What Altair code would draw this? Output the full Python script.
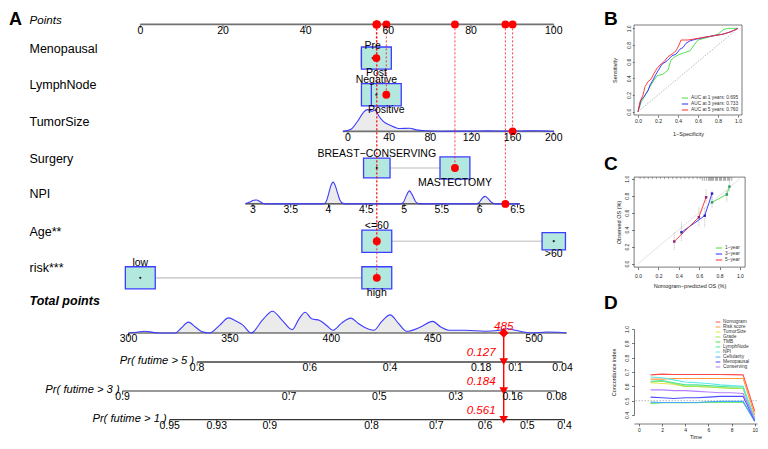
import altair as alt
import numpy as np
import pandas as pd

FONT = "Liberation Sans"

# ============================ data: panel A (nomogram) ============================
POINTS_TICKS = [0, 20, 40, 60, 80, 100]

MENO_CATS = ["Pre", "Post"]
MENO_PTS = [56.2, 57.1]
MENO_FREQ = [0.36, 0.64]

LYMPH_CATS = ["Negative", "Positive"]
LYMPH_PTS = [57.1, 59.5]
LYMPH_FREQ = [0.50, 0.50]

SURG_CATS = ["BREAST\u2212CONSERVING", "MASTECTOMY"]
SURG_PTS = [57.2, 76.1]
SURG_FREQ = [0.44, 0.56]

AGE_CATS = ["<=60", ">60"]
AGE_PTS = [57.2, 100.0]
AGE_FREQ = [0.62, 0.38]

RISK_CATS = ["low", "high"]
RISK_PTS = [0.0, 57.2]
RISK_FREQ = [0.50, 0.50]

TUMOR_TICKS = [0, 40, 80, 120, 160, 200]
TUMOR_COEF = (50.24, 0.2488)          # points at 0, points per unit
TUMOR_SPAN = [-5, 200]
TUMOR_DENS_X = [-5, 2.9, 9.2, 15.2, 18.8, 23.5, 26.7, 29.5, 34.3, 41, 50.5, 60, 66.4,
                75.9, 88.6, 104, 120, 136, 152, 168, 184, 196, 200]
TUMOR_DENS_Y = [0, 2.3, 10.6, 20.6, 23.3, 21.6, 23.0, 17.3, 10.6, 6.6, 3.0, 3.3, 1.6,
                0.6, 0.2, 0.3, 0.3, 0.5, 0.3, 0.4, 0.6, 0.2, 0]

NPI_TICKS = [3, 3.5, 4, 4.5, 5, 5.5, 6, 6.5]
NPI_COEF = (27.25, 18.28)             # points at NPI 3, points per unit
NPI_SPAN = [2.9, 6.53]
NPI_DENS_X = [2.9, 2.96, 3.01, 3.05, 3.09, 3.13, 3.17,
              3.93, 3.97, 4.0, 4.03, 4.06, 4.09, 4.12, 4.15, 4.19, 4.23,
              4.95, 4.99, 5.03, 5.07, 5.11, 5.15, 5.19, 5.23,
              5.95, 5.99, 6.03, 6.07, 6.11, 6.15, 6.19, 6.23, 6.53]
NPI_DENS_Y = [0.3, 2.0, 3.8, 4.0, 2.5, 0.6, 0,
              0, 2.5, 10, 18.5, 22.3, 18.5, 11, 4, 0.5, 0,
              0, 1.5, 8.5, 13.3, 9, 2.5, 0.3, 0,
              0, 1.2, 5.5, 7.7, 5.5, 2, 0.3, 0, 0]

TOTAL_TICKS = [300, 350, 400, 450, 500]
TOTAL_COEF = (-2.844, 0.4905)         # points-scale position of 300, per total point
TOTAL_SPAN = [300, 516]
TOTAL_DENS_X = [300, 304, 308, 312, 315, 323, 326, 329.5, 333, 336, 340, 345, 349.3, 353,
                356.5, 360.5, 366, 371, 375.8, 380.7, 384, 387.1, 390.3, 394.3, 398, 400.8,
                405, 409.7, 413, 416.1, 420.9, 425, 429, 433, 437.1, 444, 449.9, 454, 458,
                466, 475.7, 482, 487, 491, 495, 499, 506.3, 512, 516]
TOTAL_DENS_Y = [0, 0.8, 1.7, 0.6, 0, 0, 5, 11, 6, 1.5, 0, 8, 15.3, 12,
                7.7, 0, 13, 22, 12.7, 3.3, 14, 21, 14.3, 12.7, 7, 2.7,
                10, 15, 10, 6, 2.7, 12, 18.3, 10, 1.7, 6, 11.7, 6, 2.7,
                2.7, 1.7, 2.5, 4.3, 2.7, 1, 0, 1, 0.8, 0]

PR5_LABELS = ["0.8", "0.6", "0.4", "0.18", "0.1", "0.04"]
PR5_TOTAL = [333.8, 389.4, 429.0, 473.9, 490.8, 514.0]
PR3_LABELS = ["0.9", "0.7", "0.5", "0.3", "0.16", "0.08"]
PR3_TOTAL = [297.1, 379.2, 423.7, 461.4, 489.4, 511.1]
PR1_LABELS = ["0.95", "0.93", "0.9", "0.8", "0.7", "0.6", "0.5", "0.4"]
PR1_TOTAL = [320.3, 343.5, 369.6, 419.8, 451.7, 475.8, 496.6, 515.0]

PATIENT = {"Menopausal": "Post", "LymphNode": "Positive", "TumorSize": 160,
           "Surgery": "MASTECTOMY", "NPI": 6.34, "Age**": "<=60", "risk***": "high"}
PATIENT_TOTAL = 485
PATIENT_PROB = {"Pr5": "0.127", "Pr3": "0.184", "Pr1": "0.561"}

# ============================ data: panel B (ROC) ============================
ROC_NAMES = ["AUC at 1 years: 0.695", "AUC at 3 years: 0.733", "AUC at 5 years: 0.760"]
ROC1_FPR = [0, 0.03, 0.06, 0.09, 0.13, 0.16, 0.19, 0.25, 0.30, 0.33, 0.37, 0.42, 0.47, 0.52,
            0.56, 0.60, 0.66, 0.72, 0.80, 0.86, 0.92, 1.0]
ROC1_TPR = [0, 0.11, 0.17, 0.24, 0.32, 0.38, 0.43, 0.45, 0.50, 0.62, 0.66, 0.69, 0.71, 0.73,
            0.80, 0.86, 0.88, 0.90, 0.93, 0.99, 1.0, 1.0]
ROC3_FPR = [0, 0.03, 0.06, 0.10, 0.12, 0.15, 0.18, 0.21, 0.24, 0.29, 0.34, 0.38, 0.42, 0.45,
            0.48, 0.52, 0.58, 0.66, 0.75, 0.85, 0.93, 1.0]
ROC3_TPR = [0, 0.14, 0.18, 0.25, 0.32, 0.38, 0.45, 0.51, 0.57, 0.61, 0.67, 0.69, 0.75, 0.77,
            0.82, 0.85, 0.87, 0.89, 0.91, 0.93, 0.96, 1.0]
ROC5_FPR = [0, 0.02, 0.05, 0.07, 0.10, 0.13, 0.16, 0.19, 0.22, 0.26, 0.30, 0.34, 0.38, 0.41,
            0.43, 0.50, 0.55, 0.65, 0.75, 0.85, 0.93, 1.0]
ROC5_TPR = [0, 0.12, 0.20, 0.30, 0.36, 0.39, 0.46, 0.52, 0.56, 0.60, 0.66, 0.69, 0.73, 0.80,
            0.86, 0.86, 0.87, 0.89, 0.91, 0.93, 0.96, 1.0]

# ============================ data: panel C (calibration) ============================
CAL_NAMES = ["1\u2212year", "3\u2212year", "5\u2212year"]
CAL1_PRED = [0.726, 0.871, 0.897]
CAL1_OBS = [0.721, 0.814, 0.907]
CAL1_LO = [0.66, 0.73, 0.86]
CAL1_HI = [0.79, 0.87, 0.97]
CAL3_PRED = [0.426, 0.655, 0.726]
CAL3_OBS = [0.368, 0.565, 0.825]
CAL3_LO = [0.27, 0.435, 0.73]
CAL3_HI = [0.49, 0.66, 0.87]
CAL5_PRED = [0.355, 0.597, 0.668]
CAL5_OBS = [0.260, 0.546, 0.781]
CAL5_LO = [0.164, 0.435, 0.71]
CAL5_HI = [0.372, 0.665, 0.88]
RUG_SPARSE = [0.02, 0.06, 0.10, 0.14, 0.18, 0.22, 0.26, 0.30, 0.34, 0.38, 0.42, 0.46, 0.50,
              0.54, 0.58, 0.61]
RUG_DENSE = [0.63, 0.65, 0.67, 0.69, 0.70, 0.71, 0.72, 0.73, 0.74, 0.76, 0.77, 0.78, 0.80,
             0.81, 0.82, 0.84, 0.85, 0.86, 0.88, 0.89, 0.90, 0.92]

# ============================ data: panel D (C-index) ============================
CI_TIME = [1, 2, 3, 4, 5, 6, 7, 8, 9, 10]
CI_NAMES = ["Nomogram", "Risk score", "TumorSize", "Grade", "TMB", "LymphNode", "NPI",
            "Cellularity", "Menopausal", "Conserving"]
CI_VALUES = [
    [0.680, 0.685, 0.683, 0.683, 0.683, 0.683, 0.683, 0.682, 0.680, 0.425],
    [0.650, 0.650, 0.655, 0.655, 0.655, 0.655, 0.655, 0.655, 0.655, 0.400],
    [0.625, 0.620, 0.615, 0.600, 0.600, 0.595, 0.590, 0.590, 0.585, 0.380],
    [0.630, 0.635, 0.620, 0.600, 0.600, 0.595, 0.590, 0.585, 0.585, 0.370],
    [0.480, 0.485, 0.485, 0.485, 0.485, 0.490, 0.490, 0.490, 0.490, 0.360],
    [0.635, 0.640, 0.625, 0.610, 0.610, 0.605, 0.600, 0.595, 0.595, 0.365],
    [0.665, 0.660, 0.645, 0.630, 0.625, 0.620, 0.610, 0.605, 0.600, 0.375],
    [0.490, 0.487, 0.487, 0.487, 0.487, 0.492, 0.495, 0.495, 0.495, 0.355],
    [0.525, 0.520, 0.515, 0.520, 0.520, 0.525, 0.530, 0.530, 0.530, 0.360],
    [0.575, 0.575, 0.570, 0.570, 0.565, 0.560, 0.555, 0.555, 0.550, 0.370],
]
CI_COLORS = ["#ff4d4d", "#ff9a3c", "#e6e64d", "#a6e64d", "#4de64d", "#4de69e", "#5ce8e8",
             "#4da6ff", "#4d4dff", "#b380ff"]
CI_REF = [0.5]

# ============================ panel A layout ============================
ROW = {"Points": 0.0, "Menopausal": 0.93, "LymphNode": 1.94, "TumorSize": 2.95,
       "Surgery": 3.96, "NPI": 4.95, "Age**": 5.98, "risk***": 6.99,
       "Total points": 8.51, "Pr5": 9.31, "Pr3": 10.11, "Pr1": 10.90}
DENS_H = 0.60
BOX_W, BOX_H = 7.23, 0.612
GAP = 0.106
TICK_LEN = 0.10
LAB_OFF = 0.035
RED = "#ff0000"


def tumor_pts(v):
    return TUMOR_COEF[0] + TUMOR_COEF[1] * v


def npi_pts(v):
    return NPI_COEF[0] + NPI_COEF[1] * (v - 3)


def total_pts(t):
    return TOTAL_COEF[0] + TOTAL_COEF[1] * (t - 300)


XS = alt.Scale(domain=[-32.0, 107.8], nice=False, zero=False)
YS = alt.Scale(domain=[-0.452, 11.489], reverse=True, nice=False, zero=False)


def X(f="pts"):
    return alt.X(f + ":Q", scale=XS, axis=None)


def Y(f="row"):
    return alt.Y(f + ":Q", scale=YS, axis=None)


cat_vars = [("Menopausal", MENO_CATS, MENO_PTS, MENO_FREQ),
            ("LymphNode", LYMPH_CATS, LYMPH_PTS, LYMPH_FREQ),
            ("Surgery", SURG_CATS, SURG_PTS, SURG_FREQ),
            ("Age**", AGE_CATS, AGE_PTS, AGE_FREQ),
            ("risk***", RISK_CATS, RISK_PTS, RISK_FREQ)]

boxes, cat_labels, cat_dots, connectors, sel = [], [], [], [], []
for var, cats, pts, freq in cat_vars:
    r = ROW[var]
    fmax = max(freq)
    connectors.append(dict(pts=min(pts), pts2=max(pts), row=r))
    for i, (c, p, f) in enumerate(zip(cats, pts, freq)):
        s = np.sqrt(f / fmax)
        hw, hh = BOX_W * s / 2, BOX_H * s / 2
        boxes.append(dict(pts=p - hw, pts2=p + hw, row=r - hh, row2=r + hh))
        off = hh + GAP
        cat_labels.append(dict(pts=p, row=(r - off) if i == 0 else (r + off), text=c))
        cat_dots.append(dict(pts=p, row=r))
    sel.append(dict(pts=pts[cats.index(PATIENT[var])], row=r))
sel.append(dict(pts=tumor_pts(PATIENT["TumorSize"]), row=ROW["TumorSize"]))
sel.append(dict(pts=npi_pts(PATIENT["NPI"]), row=ROW["NPI"]))
sel_df = pd.DataFrame(sel)
sel_df["top"] = ROW["Points"]
sel_top = sel_df[["pts"]].copy()
sel_top["row"] = ROW["Points"]

# axis lines and ticks
GRAY, DARK = "#707070", "#333333"
axis_lines, ticks = [], []


def add_axis(row_key, lo, hi, tick_pts, tick_labels, col, w):
    axis_lines.append(dict(pts=lo, pts2=hi, row=ROW[row_key], col=col, w=w))
    for p, lab in zip(tick_pts, tick_labels):
        ticks.append(dict(pts=p, row=ROW[row_key], row2=ROW[row_key] + TICK_LEN,
                          lrow=ROW[row_key] + LAB_OFF, text=lab, col=col))


add_axis("Points", 0, 100, POINTS_TICKS, [str(t) for t in POINTS_TICKS], GRAY, 1.8)
add_axis("TumorSize", tumor_pts(TUMOR_SPAN[0]), tumor_pts(TUMOR_SPAN[1]),
         [tumor_pts(t) for t in TUMOR_TICKS], [str(t) for t in TUMOR_TICKS], GRAY, 1.8)
add_axis("NPI", npi_pts(NPI_SPAN[0]), npi_pts(NPI_SPAN[1]),
         [npi_pts(t) for t in NPI_TICKS], [f"{t:g}" for t in NPI_TICKS], DARK, 1.2)
add_axis("Total points", total_pts(TOTAL_SPAN[0]), total_pts(TOTAL_SPAN[1]),
         [total_pts(t) for t in TOTAL_TICKS], [str(t) for t in TOTAL_TICKS], DARK, 1.2)
for key, labs, tots, col, w in [("Pr5", PR5_LABELS, PR5_TOTAL, GRAY, 1.8),
                                ("Pr3", PR3_LABELS, PR3_TOTAL, DARK, 1.2),
                                ("Pr1", PR1_LABELS, PR1_TOTAL, DARK, 1.2)]:
    add_axis(key, total_pts(tots[0]), total_pts(tots[-1]),
             [total_pts(t) for t in tots], labs, col, w)
axis_df = pd.DataFrame(axis_lines)
tick_df = pd.DataFrame(ticks)

# densities
dens = []
for var, xs_, ys_, fn in [("TumorSize", TUMOR_DENS_X, TUMOR_DENS_Y, tumor_pts),
                          ("NPI", NPI_DENS_X, NPI_DENS_Y, npi_pts),
                          ("Total points", TOTAL_DENS_X, TOTAL_DENS_Y, total_pts)]:
    m = max(ys_)
    for xv, yv in zip(xs_, ys_):
        dens.append(dict(var=var, pts=fn(xv), row=ROW[var], top=ROW[var] - DENS_H * yv / m))
dens_df = pd.DataFrame(dens)

# texts
var_names = ["Menopausal", "LymphNode", "TumorSize", "Surgery", "NPI", "Age**", "risk***"]
var_lab_df = pd.DataFrame(dict(pts=-26.8, row=[ROW[v] - 0.26 for v in var_names], text=var_names))
pts_lab_df = pd.DataFrame(dict(pts=[-26.8], row=[-0.085], text=["Points"]))
tot_lab_df = pd.DataFrame(dict(pts=[-26.8], row=[7.63], text=["Total points"]))
pr_lab_df = pd.DataFrame(dict(
    pts=[total_pts(PR5_TOTAL[0]), total_pts(PR3_TOTAL[0]), total_pts(PR1_TOTAL[0])],
    row=[ROW["Pr5"] - 0.03, ROW["Pr3"] - 0.03, ROW["Pr1"] - 0.03],
    text=["Pr( futime > 5 )", "Pr( futime > 3 )", "Pr( futime > 1 )"]))
tp = total_pts(PATIENT_TOTAL)
red_tot_df = pd.DataFrame(dict(pts=[tp], row=[ROW["Total points"] - 0.16], text=[str(PATIENT_TOTAL)]))
red_prob_df = pd.DataFrame(dict(pts=tp, row=[ROW[k] - 0.24 for k in PATIENT_PROB],
                                text=list(PATIENT_PROB.values())))
tot_line_df = pd.DataFrame(dict(pts=[tp], row=[ROW["Total points"]], row2=[ROW["Pr1"]]))
tri_df = pd.DataFrame(dict(pts=tp, row=[ROW["Pr5"], ROW["Pr3"], ROW["Pr1"]]))
diam_df = pd.DataFrame(dict(pts=[tp], row=[ROW["Total points"]]))


def txt(df, **kw):
    base = dict(font=FONT, color="black", baseline="middle", align="left", fontSize=12.5)
    base.update(kw)
    return alt.Chart(df).mark_text(**base).encode(x=X(), y=Y(), text="text:N")


layersA = [
    alt.Chart(dens_df).mark_area(color="#ebebeb", interpolate="monotone").encode(
        x=X(), y=alt.Y("top:Q", scale=YS, axis=None, stack=False), y2=alt.Y2("row:Q"),
        detail="var:N"),
    alt.Chart(axis_df).mark_rule().encode(
        x=X(), x2=alt.X2("pts2:Q"), y=Y(),
        color=alt.Color("col:N", scale=None), strokeWidth=alt.StrokeWidth("w:Q", scale=None)),
    alt.Chart(tick_df).mark_rule(strokeWidth=1).encode(
        x=X(), y=Y(), y2=alt.Y2("row2:Q"), color=alt.Color("col:N", scale=None)),
    alt.Chart(dens_df).mark_line(color="#3c3cff", strokeWidth=1.1, interpolate="monotone").encode(
        x=X(), y=alt.Y("top:Q", scale=YS, axis=None), detail="var:N"),
    alt.Chart(pd.DataFrame(connectors)).mark_rule(color="#d2d2d2", strokeWidth=1.6).encode(
        x=X(), x2=alt.X2("pts2:Q"), y=Y()),
    alt.Chart(pd.DataFrame(boxes)).mark_rect(fill="#b3e8df", stroke="#3d3dff", strokeWidth=1.3).encode(
        x=X(), x2=alt.X2("pts2:Q"), y=Y(), y2=alt.Y2("row2:Q")),
    alt.Chart(sel_df).mark_rule(color=RED, strokeDash=[2, 2], strokeWidth=0.9, opacity=0.85).encode(
        x=X(), y=Y("top"), y2=alt.Y2("row:Q")),
    alt.Chart(pd.DataFrame(cat_dots)).mark_circle(color="#222222", size=5, opacity=1).encode(x=X(), y=Y()),
    alt.Chart(sel_df).mark_circle(color=RED, size=62, opacity=1).encode(x=X(), y=Y()),
    alt.Chart(sel_top).mark_circle(color=RED, size=62, opacity=1).encode(x=X(), y=Y()),
    alt.Chart(tot_line_df).mark_rule(color=RED, strokeWidth=1.4).encode(x=X(), y=Y(), y2=alt.Y2("row2:Q")),
    alt.Chart(tri_df).mark_point(shape="triangle-down", filled=True, color=RED, size=75, opacity=1).encode(
        x=X(), y=Y()),
    alt.Chart(diam_df).mark_point(shape="diamond", filled=True, color=RED, size=95, opacity=1).encode(
        x=X(), y=Y()),
    txt(var_lab_df, fontSize=12.5),
    txt(pts_lab_df, fontSize=11.6, fontStyle="italic"),
    txt(tot_lab_df, fontSize=12.5, fontStyle="italic", fontWeight="bold"),
    txt(pd.DataFrame(cat_labels), fontSize=10.5, align="center"),
    alt.Chart(tick_df).mark_text(font=FONT, fontSize=10.5, align="center", baseline="top",
                                 color="black").encode(x=X(), y=Y("lrow"), text="text:N"),
    txt(pr_lab_df, fontSize=11.2, fontStyle="italic", align="right", dx=-3),
    txt(red_tot_df, fontSize=11.6, fontStyle="italic", align="center", color=RED),
    txt(red_prob_df, fontSize=11.6, fontStyle="italic", align="right", color=RED, dx=-8),
    alt.Chart(pd.DataFrame(dict(text=["A"]))).mark_text(
        font=FONT, fontSize=18, fontWeight="bold", align="left", baseline="alphabetic").encode(
        x=alt.value(1), y=alt.value(16.5), text="text:N"),
]
panelA = alt.layer(*layersA).properties(width=578, height=433)


# ============================ right-hand panels ============================
def axis(**kw):
    base = dict(labelFont=FONT, titleFont=FONT, labelFontSize=5, titleFontSize=5.5,
                titleFontWeight="normal", tickSize=2.2, tickWidth=0.6, tickColor="#222",
                labelColor="#222", titleColor="#222", grid=False, domain=False, labelPadding=1)
    base.update(kw)
    return alt.Axis(**base)


def letter(t, dx, dy):
    return alt.Chart(pd.DataFrame(dict(text=[t]))).mark_text(
        font=FONT, fontSize=19, fontWeight="bold", align="left", baseline="alphabetic").encode(
        x=alt.value(dx), y=alt.value(dy), text="text:N")


def legend(**kw):
    base = dict(title=None, labelFont=FONT, labelFontSize=4.8, labelColor="#333",
                symbolType="stroke", symbolStrokeWidth=1, symbolSize=40, rowPadding=0,
                padding=1, labelOffset=2)
    base.update(kw)
    return alt.Legend(**base)


T01 = [0, 0.2, 0.4, 0.6, 0.8, 1.0]

# ---- B
bxs = alt.Scale(domain=[-0.04, 1.04], nice=False, zero=False)
bys = alt.Scale(domain=[-0.04, 1.244], nice=False, zero=False)
axBx = axis(values=T01, format=".1f", title="1\u2212Specificity", titlePadding=8)
axBy = axis(values=T01, format=".1f", title="Sensitivity", labelAngle=270, titlePadding=9,
            titleY=62, tickSize=1.7, labelPadding=0.5)
roc = []
for name, fx, fy in zip(ROC_NAMES, [ROC1_FPR, ROC3_FPR, ROC5_FPR], [ROC1_TPR, ROC3_TPR, ROC5_TPR]):
    for i, (a, b) in enumerate(zip(fx, fy)):
        roc.append(dict(series=name, i=i, fpr=a, tpr=b))
roc_df = pd.DataFrame(roc)
frame_df = pd.DataFrame(dict(fpr=[-0.04], fpr2=[1.04], tpr=[-0.04], tpr2=[1.04]))
diag_df = pd.DataFrame(dict(fpr=[0, 1], tpr=[0, 1]))
panelB = alt.layer(
    alt.Chart(frame_df).mark_rect(fillOpacity=0, stroke="#222", strokeWidth=0.6).encode(
        x=alt.X("fpr:Q", scale=bxs, axis=axBx), x2="fpr2:Q",
        y=alt.Y("tpr:Q", scale=bys, axis=axBy), y2="tpr2:Q"),
    alt.Chart(diag_df).mark_line(color="#888", strokeDash=[1.5, 1.5], strokeWidth=0.6).encode(
        x=alt.X("fpr:Q", scale=bxs, axis=axBx), y=alt.Y("tpr:Q", scale=bys, axis=axBy)),
    alt.Chart(roc_df).mark_line(strokeWidth=0.9).encode(
        x=alt.X("fpr:Q", scale=bxs, axis=axBx), y=alt.Y("tpr:Q", scale=bys, axis=axBy),
        color=alt.Color("series:N", scale=alt.Scale(domain=ROC_NAMES, range=["#44dd44", "#2a2aff", "#ff2a2a"]),
                        legend=legend(orient="bottom-right", offset=2)),
        order="i:Q"),
    letter("B", -30, 17),
).properties(width=108, height=107)

# ---- C
cxs = alt.Scale(domain=[-0.04, 1.05], nice=False, zero=False)
cys = alt.Scale(domain=[-0.04, 1.02], nice=False, zero=False)
axCx = axis(values=T01, format=".1f", title="Nomogram\u2212predicted OS (%)", titlePadding=5,
            tickSize=2.5, labelPadding=4)
axCy = axis(values=T01, format=".1f", title="Observed OS (%)", labelAngle=270, titlePadding=3,
            tickSize=2.5, labelPadding=2)
cal = []
for name, pp, oo, lo, hi, pc in zip(CAL_NAMES, [CAL1_PRED, CAL3_PRED, CAL5_PRED],
                                    [CAL1_OBS, CAL3_OBS, CAL5_OBS], [CAL1_LO, CAL3_LO, CAL5_LO],
                                    [CAL1_HI, CAL3_HI, CAL5_HI], ["#2e9b6b", "#2323c8", "#8e1f7a"]):
    for a, b, l, h in zip(pp, oo, lo, hi):
        cal.append(dict(series=name, pred=a, obs=b, lo=l, hi=h, pcol=pc))
cal_df = pd.DataFrame(cal)
rug_df = pd.DataFrame(dict(pred=RUG_SPARSE + RUG_DENSE, top=1.02,
                           bot=[0.995] * len(RUG_SPARSE) + [0.975] * len(RUG_DENSE)))
cdiag_df = pd.DataFrame(dict(pred=[0, 1], obs=[0, 1]))


def cX(f="pred"):
    return alt.X(f + ":Q", scale=cxs, axis=axCx)


def cY(f="obs"):
    return alt.Y(f + ":Q", scale=cys, axis=axCy)


panelC = alt.layer(
    alt.Chart(cdiag_df).mark_line(color="#d0d0d0", strokeWidth=0.6).encode(x=cX(), y=cY()),
    alt.Chart(rug_df).mark_rule(color="#555", strokeWidth=0.5).encode(x=cX(), y=cY("top"), y2="bot:Q"),
    alt.Chart(cal_df).mark_rule(color="#9a9a9a", strokeDash=[1, 1], strokeWidth=0.7).encode(
        x=cX(), y=cY("lo"), y2="hi:Q"),
    alt.Chart(cal_df).mark_line(strokeWidth=0.9).encode(
        x=cX(), y=cY(),
        color=alt.Color("series:N", scale=alt.Scale(domain=CAL_NAMES, range=["#44dd44", "#2a2aff", "#ff2a2a"]),
                        legend=legend(orient="bottom-right", offset=4))),
    alt.Chart(cal_df).mark_square(size=6, opacity=1).encode(
        x=cX(), y=cY(), color=alt.Color("pcol:N", scale=None)),
    letter("C", -30, -7),
).properties(width=111, height=90, view=alt.ViewBackground(stroke="#222", strokeWidth=0.6))

# ---- D
dxs = alt.Scale(domain=[-0.43, 10.2], nice=False, zero=False)
dys = alt.Scale(domain=[0.4, 1.0], nice=False, zero=False)
axDx = axis(values=[0, 2, 4, 6, 8, 10], format="d", title="Time", titlePadding=2.5, offset=8.5,
            domain=True, domainColor="#222", domainWidth=0.6, tickSize=2.5)
axDy = axis(values=[0.4, 0.5, 0.6, 0.7, 0.8, 0.9, 1.0], format=".1f", title="Concordance index",
            labelAngle=270, titlePadding=8, domain=True, domainColor="#222", domainWidth=0.6,
            tickSize=2.5, labelPadding=2)
ci = []
for name, vals in zip(CI_NAMES, CI_VALUES):
    for t, v in zip(CI_TIME, vals):
        ci.append(dict(series=name, time=t, cindex=v))
ci_df = pd.DataFrame(ci)
panelD = alt.layer(
    alt.Chart(pd.DataFrame(dict(cindex=CI_REF))).mark_rule(
        color="#aaaaaa", strokeDash=[1.5, 1.5], strokeWidth=0.8).encode(
        y=alt.Y("cindex:Q", scale=dys, axis=axDy)),
    alt.Chart(ci_df).mark_line(strokeWidth=1.1).encode(
        x=alt.X("time:Q", scale=dxs, axis=axDx), y=alt.Y("cindex:Q", scale=dys, axis=axDy),
        color=alt.Color("series:N", scale=alt.Scale(domain=CI_NAMES, range=CI_COLORS),
                        legend=legend(orient="none", legendX=80, legendY=-11, symbolSize=22))),
    letter("D", -30, -20),
).properties(width=123, height=86)

right = alt.vconcat(panelB, panelC, panelD, spacing=62, bounds="flush").resolve_scale(color="independent")
chart = alt.hconcat(panelA, right, spacing=48, bounds="flush", padding=0).resolve_scale(
    color="independent").configure(font=FONT).configure_view(stroke=None)

chart.save("out.html", embed_options={"renderer": "svg", "actions": False})
